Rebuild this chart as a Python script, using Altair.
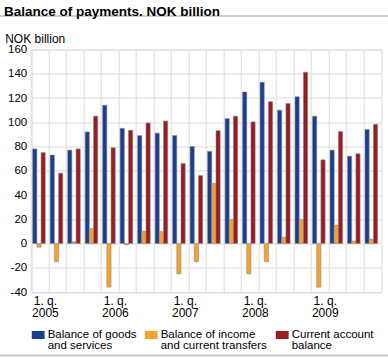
import altair as alt
import pandas as pd

quarters = [f"{y}-Q{q}" for y in range(2005, 2010) for q in range(1, 5)]
goods = [78, 73, 77, 92, 114, 95, 89, 91, 89, 80, 76, 103, 125, 133, 110, 121, 105, 77, 72, 94]
income = [-3, -15, 1.5, 12.4, -36, -1.2, 10, 10, -25, -15, 49.6, 19.8, -25, -15, 5, 19.8, -36, 15.2, 2, 3.6]
current = [75, 58, 78, 105, 79, 93.4, 99.4, 101, 66, 56, 93, 105, 100.3, 117, 115.4, 141.3, 69, 92.3, 74, 98.3]

series = ["Balance of goods|and services",
          "Balance of income|and current transfers",
          "Current account|balance"]
colors = ["#1a3d8f", "#f7a12e", "#9a1b22"]

rows = []
for i, q in enumerate(quarters):
    for s, vals in zip(series, [goods, income, current]):
        rows.append({"quarter": q, "series": s, "value": vals[i]})
df = pd.DataFrame(rows)

W, H = 349.8, 242.5
grid = "#dcdcdc"

bars = alt.Chart(df).mark_bar(stroke="#8a8a8a", strokeWidth=0.6).encode(
    x=alt.X("quarter:N", sort=quarters,
            scale=alt.Scale(paddingInner=0, paddingOuter=0),
            axis=alt.Axis(title=None, bandPosition=0, ticks=False, domain=False,
                          grid=True, gridColor=grid, labelAngle=0,
                          labelOverlap=False, labelPadding=3, labelOffset=5,
                          labelFontSize=12, labelColor="#000", labelLineHeight=12,
                          labelFont="Liberation Sans",
                          labelExpr="slice(datum.value, 5) == 'Q1' ? ['1. q.', slice(datum.value, 0, 4)] : ''")),
    xOffset=alt.XOffset("series:N", sort=series,
                        scale=alt.Scale(domain=series, paddingInner=0, paddingOuter=0.583, align=0.2)),
    y=alt.Y("value:Q",
            scale=alt.Scale(domain=[-40, 160], nice=False),
            axis=alt.Axis(values=list(range(-40, 161, 20)), title="NOK billion",
                          titleAngle=0, titleAlign="left", titleBaseline="alphabetic",
                          titleX=-27, titleY=-7, titleFontWeight="normal",
                          titleFontSize=12, titleFont="Liberation Sans", titleColor="#000",
                          ticks=False, domain=False, gridColor=grid, labelPadding=5,
                          labelExpr="'' + datum.value",
                          labelFontSize=11.5, labelColor="#000", labelFont="Liberation Sans")),
    color=alt.Color("series:N", sort=series,
                    scale=alt.Scale(domain=series, range=colors),
                    legend=alt.Legend(title=None, orient="none", direction="horizontal",
                                      legendX=0, legendY=279,
                                      symbolType="M-1,-0.62L1,-0.62L1,0.62L-1,0.62Z",
                                      symbolSize=165, symbolStrokeWidth=0,
                                      columnPadding=8, labelFontSize=11.5,
                                      labelFont="Liberation Sans", labelColor="#000",
                                      labelLimit=200, labelOffset=3)),
)

line_df = pd.DataFrame({"a": [0]})
top_line = alt.Chart(line_df).mark_rule(color="#c0c0c0", strokeWidth=1.5).encode(
    x=alt.value(-31.7), x2=alt.value(W + 6.5), y=alt.value(-33.5))
bottom_line = alt.Chart(line_df).mark_rule(color="#c8c8c8", strokeWidth=2).encode(
    x=alt.value(-31.7), x2=alt.value(W + 6.5), y=alt.value(306))

chart = alt.layer(bars, top_line, bottom_line).properties(
    width=W, height=H,
    title=alt.TitleParams("Balance of payments. NOK billion", anchor="start",
                          fontSize=13.5, fontWeight="bold", font="Liberation Sans",
                          color="#000", offset=8, dx=5, dy=11),
    autosize=alt.AutoSizeParams(type="none"),
    padding={"left": 31.7, "top": 49.5, "right": 6.5, "bottom": 66},
).configure(background="white",
            style={"guide-label": {"lineBreak": "|", "lineHeight": 11}}).configure_view(stroke=grid)

chart.save("out.html", embed_options={"renderer": "svg", "actions": False})
